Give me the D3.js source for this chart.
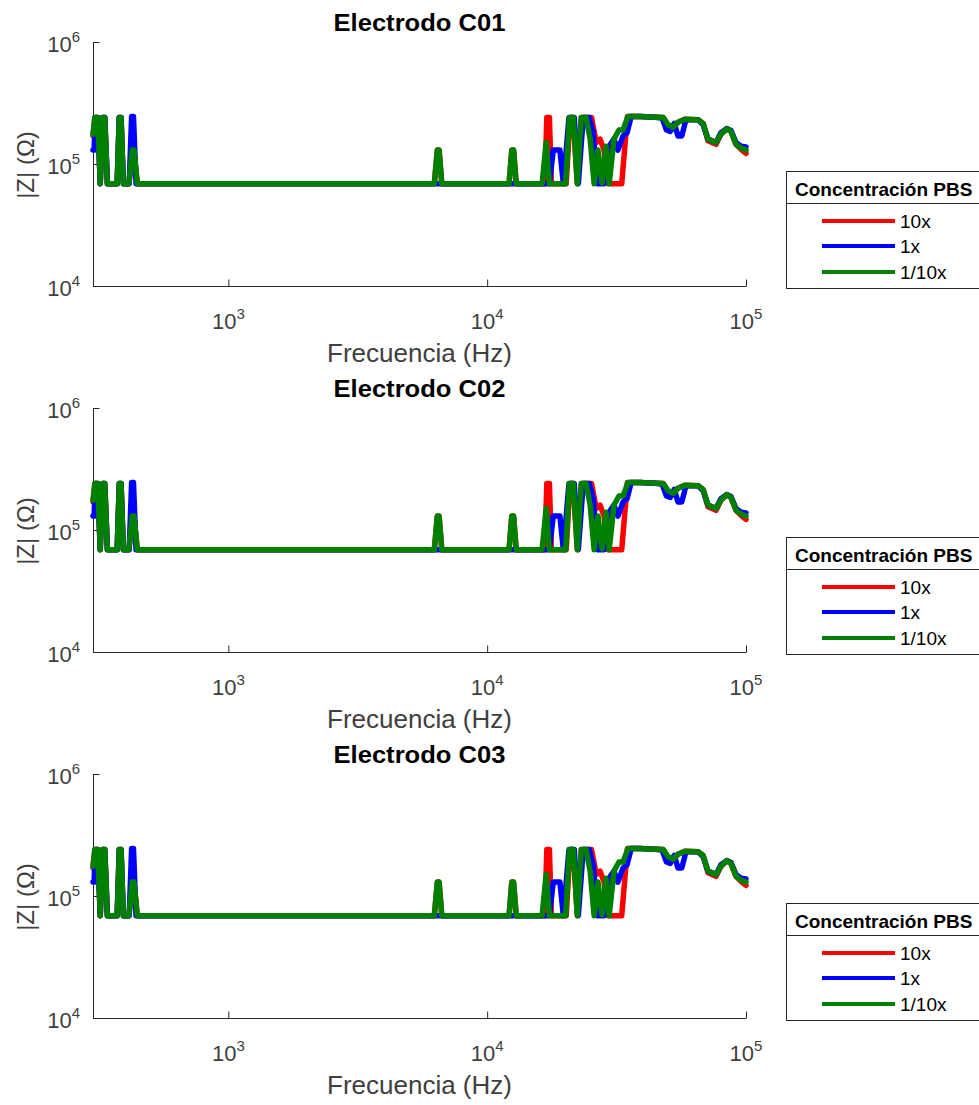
<!DOCTYPE html>
<html>
<head>
<meta charset="utf-8">
<script src="https://cdn.jsdelivr.net/npm/d3@7"></script>
<style>
body { margin: 0; background: #fff; }
svg { font-family: "Liberation Sans", Arial, Helvetica, sans-serif; }
</style>
</head>
<body>
<div id="chart"></div>
<script>
// electrodes (one panel each)
const electrodes = ["C01", "C02", "C03"]
const seriesNames = ["10x", "1x", "1/10x"]
const seriesColors = ["#ff0000", "#0000ff", "#008000"]

const xTicks = [1e3, 1e4, 1e5]
const yTicks = [1e4, 1e5, 1e6]

// PBS 10x
const freq10x = [300, 305, 313, 320, 327, 333, 341, 372, 379, 385, 393, 413, 425, 432, 445,
	6250, 6420, 6520, 6680, 12150, 12450, 12650, 12950, 16700, 17000, 17400, 17700,
	20200, 20900, 21500, 22300, 23100, 25300, 26400, 27300, 28300, 29200, 33100, 34800,
	39000, 44600, 47900, 50000, 52300, 54600, 58100, 65300, 68300, 71300, 76600, 80000,
	84400, 87500, 91500, 95700, 100000]
const z10x = [1.7e5, 2.4e5, 2.4e5, 6.9e4, 2.4e5, 2.4e5, 6.9e4, 6.9e4, 2.4e5, 2.4e5, 6.9e4, 6.9e4, 1.3e5, 1.3e5, 6.9e4,
	6.9e4, 1.3e5, 1.3e5, 6.9e4, 6.9e4, 1.3e5, 1.3e5, 6.9e4, 6.9e4, 2.4e5, 2.4e5, 6.9e4,
	6.9e4, 2.4e5, 2.4e5, 6.9e4, 2.4e5, 2.4e5, 1.5e5, 1.6e5, 1.3e5, 6.9e4, 6.9e4, 2.45e5,
	2.45e5, 2.42e5, 2.4e5, 2.05e5, 2.0e5, 2.2e5, 2.33e5, 2.3e5, 2.15e5, 1.55e5, 1.45e5, 1.75e5,
	1.95e5, 1.85e5, 1.45e5, 1.32e5, 1.22e5]

// PBS 1x
const freq1x = [300, 303, 306, 313, 320, 327, 333, 341, 372, 379, 385, 393, 414, 423, 430, 440,
	17400, 18000, 19100, 19700, 20700, 21700, 22500, 23500, 24800, 25700, 26600, 28300,
	29600, 30900, 32000, 33500, 34700, 36000,
	39000, 44600, 47400, 49300, 51000, 52800, 54600, 56500, 58600, 65300, 68300, 71300,
	76600, 80000, 84400, 87500, 91500, 95700, 100000]
const z1x = [1.3e5, 1.3e5, 2.4e5, 2.4e5, 6.9e4, 2.4e5, 2.4e5, 6.9e4, 6.9e4, 2.4e5, 2.4e5, 6.9e4, 6.9e4, 2.45e5, 2.45e5, 6.9e4,
	6.9e4, 1.3e5, 1.3e5, 6.9e4, 2.4e5, 2.4e5, 6.9e4, 2.4e5, 2.4e5, 1.8e5, 6.9e4, 6.9e4,
	1.4e5, 1.6e5, 1.3e5, 1.7e5, 1.8e5, 2.45e5,
	2.45e5, 2.42e5, 2.38e5, 1.9e5, 1.85e5, 2.15e5, 1.7e5, 1.7e5, 2.3e5, 2.3e5, 2.1e5, 1.6e5,
	1.5e5, 1.8e5, 1.95e5, 1.88e5, 1.5e5, 1.4e5, 1.38e5]

// PBS 1/10x
const freq01x = [300, 305, 313, 320, 327, 333, 341, 372, 379, 385, 393, 413, 425, 432, 445,
	6250, 6420, 6520, 6680, 12150, 12450, 12650, 12950, 16300, 16900, 17400, 20100,
	20800, 21500, 22300, 23100, 24100, 25000, 25900, 26800, 27800, 28800, 29600, 30900,
	32300, 33500, 35000, 39000, 44600, 47900, 50000, 52300, 54600, 58100, 65300, 68300,
	71300, 76600, 80000, 84400, 87500, 91500, 95700, 100000]
const z01x = [1.75e5, 2.4e5, 2.4e5, 6.9e4, 2.4e5, 2.4e5, 6.9e4, 6.9e4, 2.4e5, 2.4e5, 6.9e4, 6.9e4, 1.3e5, 1.3e5, 6.9e4,
	6.9e4, 1.3e5, 1.3e5, 6.9e4, 6.9e4, 1.3e5, 1.3e5, 6.9e4, 6.9e4, 1.5e5, 6.9e4, 6.9e4,
	2.4e5, 2.4e5, 6.9e4, 2.4e5, 2.4e5, 1.6e5, 6.9e4, 1.3e5, 7.0e4, 1.4e5, 6.9e4, 1.6e5,
	1.9e5, 1.9e5, 2.45e5, 2.45e5, 2.42e5, 2.4e5, 2.1e5, 2.0e5, 2.2e5, 2.33e5, 2.3e5, 2.15e5,
	1.6e5, 1.5e5, 1.75e5, 1.95e5, 1.85e5, 1.45e5, 1.35e5, 1.3e5]

const seriesFreq = [freq10x, freq1x, freq01x]
const seriesZ = [z10x, z1x, z01x]

const W = 979, H = 1105
const left = 93, right = 746
const panelTops = [42, 408, 774]
const ph = 244
const axisColor = "#262626"
const labelColor = "#404040"

const svg = d3.select("#chart").append("svg")
	.attr("width", W)
	.attr("height", H)

const x = d3.scaleLog().domain([300, 1e5]).range([left, right])

function minorTicks(lo, hi) {
	var list = []
	for (var e = Math.floor(Math.log10(lo)); e < Math.ceil(Math.log10(hi)); e++) {
		for (var k = 2; k <= 9; k++) {
			var v = k * Math.pow(10, e)
			if (v >= lo && v <= hi) list.push(v)
		}
	}
	return list
}

function powLabel(sel, exp) {
	sel.append("tspan").text("10")
	sel.append("tspan").attr("dy", -10).attr("font-size", 15).text(exp)
}

function drawPanel(name, top) {
	const y = d3.scaleLog().domain([1e4, 1e6]).range([top + ph, top])
	const g = svg.append("g")

	// x axis, ticks pointing inward
	const xa = g.append("g").attr("transform", `translate(0,${top + ph})`).attr("color", axisColor)
	xa.call(d3.axisBottom(x).tickValues(minorTicks(300, 1e5)).tickSize(-4).tickSizeOuter(0).tickFormat(""))
	xa.call(d3.axisBottom(x).tickValues(xTicks).tickSize(-6.5).tickSizeOuter(0).tickFormat(""))
	xa.selectAll("path,line").attr("stroke-width", 1)

	const ya = g.append("g").attr("transform", `translate(${left},0)`).attr("color", axisColor)
	ya.call(d3.axisLeft(y).tickValues(minorTicks(1e4, 1e6)).tickSize(-4).tickSizeOuter(0).tickFormat(""))
	ya.call(d3.axisLeft(y).tickValues(yTicks).tickSize(-6.5).tickSizeOuter(0).tickFormat(""))
	ya.selectAll("path,line").attr("stroke-width", 1)

	// tick labels
	xTicks.forEach(t => {
		g.append("text")
			.attr("x", x(t))
			.attr("y", top + 287)
			.attr("text-anchor", "middle")
			.attr("font-size", 22)
			.attr("fill", labelColor)
			.call(powLabel, Math.log10(t))
	})
	yTicks.forEach(t => {
		g.append("text")
			.attr("x", 80)
			.attr("y", y(t) + 10)
			.attr("text-anchor", "end")
			.attr("font-size", 22)
			.attr("fill", labelColor)
			.call(powLabel, Math.log10(t))
	})

	// lines
	const line = d3.line().x(d => x(d[0])).y(d => y(d[1]))
	seriesNames.forEach((s, i) => {
		var pts = seriesFreq[i].map((f, j) => [f, seriesZ[i][j]])
		g.append("path")
			.attr("d", line(pts))
			.attr("fill", "none")
			.attr("stroke", seriesColors[i])
			.attr("stroke-width", 5.5)
			.attr("stroke-linejoin", "round")
			.attr("stroke-linecap", "round")
	})

	// title and labels
	g.append("text")
		.attr("x", (left + right) / 2)
		.attr("y", top - 11)
		.attr("text-anchor", "middle")
		.attr("font-size", 24)
		.attr("font-weight", "bold")
		.attr("fill", "#000")
		.attr("textLength", 172)
		.attr("lengthAdjust", "spacingAndGlyphs")
		.text("Electrodo " + name)

	g.append("text")
		.attr("x", (left + right) / 2)
		.attr("y", top + 320)
		.attr("text-anchor", "middle")
		.attr("font-size", 26)
		.attr("fill", labelColor)
		.text("Frecuencia (Hz)")

	g.append("text")
		.attr("transform", `translate(34,${top + 123}) rotate(-90)`)
		.attr("text-anchor", "middle")
		.attr("font-size", 24)
		.attr("fill", labelColor)
		.text("|Z| (Ω)")

	// legend
	const lg = g.append("g").attr("transform", `translate(786,${top + 129})`)
	lg.append("rect")
		.attr("x", 0.5).attr("y", 0.5)
		.attr("width", 205).attr("height", 117)
		.attr("fill", "#fff")
		.attr("stroke", axisColor)
	lg.append("line")
		.attr("x1", 0.5).attr("x2", 205)
		.attr("y1", 32.5).attr("y2", 32.5)
		.attr("stroke", axisColor)
	lg.append("text")
		.attr("x", 9).attr("y", 25)
		.attr("font-size", 19)
		.attr("font-weight", "bold")
		.attr("fill", "#000")
		.text("Concentración PBS")
	seriesNames.forEach((s, i) => {
		var ly = [50, 75, 101][i]
		lg.append("line")
			.attr("x1", 36).attr("x2", 109)
			.attr("y1", ly).attr("y2", ly)
			.attr("stroke", seriesColors[i])
			.attr("stroke-width", 4)
		lg.append("text")
			.attr("x", 114).attr("y", ly + 7)
			.attr("font-size", 19)
			.attr("fill", "#000")
			.text(s)
	})
}

electrodes.forEach((e, i) => drawPanel(e, panelTops[i]))
</script>
</body>
</html>
